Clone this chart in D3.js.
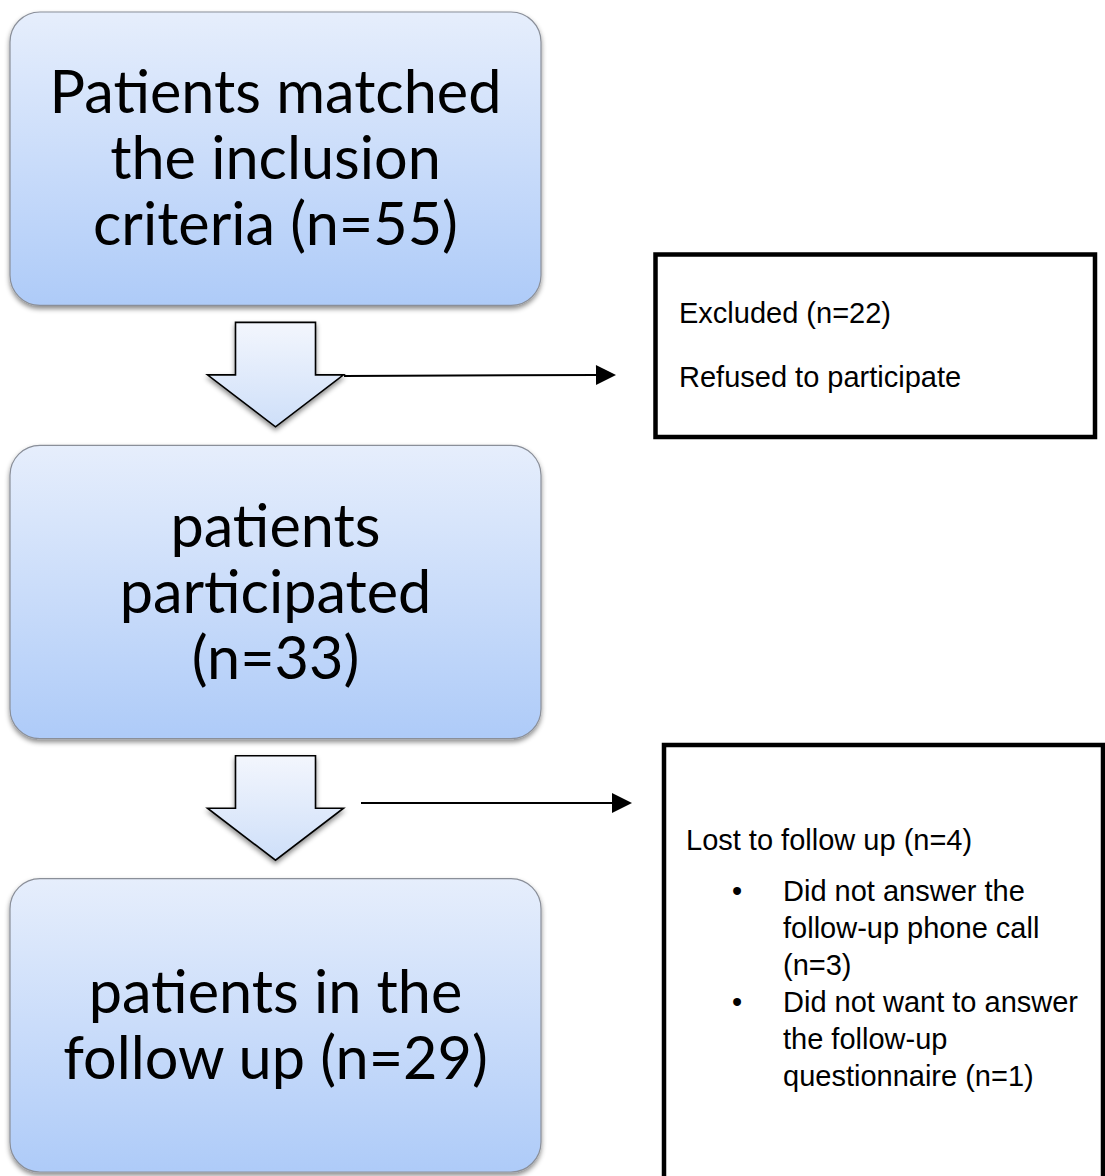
<!DOCTYPE html>
<html>
<head>
<meta charset="utf-8">
<script src="https://cdn.jsdelivr.net/npm/d3@7"></script>
<style>
  html, body { margin: 0; padding: 0; background: #fff; }
  svg { display: block; }
</style>
</head>
<body>
<svg id="chart" width="1105" height="1176"></svg>
<script>
// ---- data ----
const stages = ["matched", "participated", "followup"];
const stageCounts = [55, 33, 29];
const stageLines = [
  ["Patients matched", "the inclusion", "criteria (n={n})"],
  ["patients", "participated", "(n={n})"],
  ["patients in the", "follow up (n={n})"]
];
const excludedCount = 22;
const excludedLines = ["Excluded (n={n})", "Refused to participate"];
const lostCount = 4;
const lostTitle = "Lost to follow up (n={n})";
const lostReasons = [
  { lines: ["Did not answer the", "follow-up phone call", "(n={n})"], n: 3 },
  { lines: ["Did not want to answer", "the follow-up", "questionnaire (n={n})"], n: 1 }
];

// ---- layout ----
const W = 1105, H = 1176;
const svg = d3.select("#chart");
const defs = svg.append("defs");

const boxGrad = defs.append("linearGradient").attr("id", "boxGrad")
  .attr("x1", 0).attr("y1", 0).attr("x2", 0).attr("y2", 1);
boxGrad.append("stop").attr("offset", "0%").attr("stop-color", "#e6eefc");
boxGrad.append("stop").attr("offset", "100%").attr("stop-color", "#aecbf8");

const arrGrad = defs.append("linearGradient").attr("id", "arrGrad")
  .attr("x1", 0).attr("y1", 0).attr("x2", 0).attr("y2", 1);
arrGrad.append("stop").attr("offset", "0%").attr("stop-color", "#f3f6fd");
arrGrad.append("stop").attr("offset", "100%").attr("stop-color", "#cedff9");

const shadow = defs.append("filter").attr("id", "shadow")
  .attr("x", "-10%").attr("y", "-10%").attr("width", "120%").attr("height", "130%");
shadow.append("feDropShadow").attr("dx", 0).attr("dy", 3).attr("stdDeviation", 2.5)
  .attr("flood-color", "#000").attr("flood-opacity", 0.45);

defs.append("marker").attr("id", "arrowHead")
  .attr("viewBox", "0 0 10 10").attr("refX", 0).attr("refY", 5)
  .attr("markerUnits", "userSpaceOnUse")
  .attr("markerWidth", 21).attr("markerHeight", 20).attr("orient", "auto")
  .append("path").attr("d", "M0,0 L10,5 L0,10 Z").attr("fill", "#000");

const y = d3.scaleBand().domain(stages).range([12, 1172]).paddingInner(0.323);
const x0 = 10, x1 = 541;
const cx = (x0 + x1) / 2;

const bigFont = "Lato, 'Open Sans', sans-serif";
// measure to fit reference width of first line
const probe = svg.append("text").attr("font-family", bigFont).attr("font-size", 100)
  .text("Patients matched");
const probeW = probe.node().getComputedTextLength();
probe.remove();
const bigSize = 100 * 452 / probeW;
const lineH = 66;

const fill = (s, n) => s.replace("{n}", n);

// boxes
const g = svg.selectAll("g.stage").data(stages).join("g").attr("class", "stage");
g.append("rect")
  .attr("x", x0).attr("y", d => y(d))
  .attr("width", x1 - x0).attr("height", y.bandwidth())
  .attr("rx", 30).attr("ry", 30)
  .attr("fill", "url(#boxGrad)").attr("stroke", "#8a8f99").attr("stroke-width", 1.2)
  .attr("filter", "url(#shadow)");

g.each(function (d, i) {
  const lines = stageLines[i].map(s => fill(s, stageCounts[i]));
  const mid = y(d) + y.bandwidth() / 2;
  const first = mid - (lines.length - 1) * lineH / 2;
  d3.select(this).selectAll("text").data(lines).join("text")
    .attr("x", cx).attr("y", (s, k) => first + k * lineH)
    .attr("dy", "0.35em")
    .attr("text-anchor", "middle")
    .attr("font-family", bigFont).attr("font-size", bigSize)
    .attr("fill", "#000")
    .text(s => s);
});

// block arrows between stages
const gaps = d3.pairs(stages);
const arrowTop = 17, headY = 69.5, tipY = 121.5;
svg.selectAll("path.blockArrow").data(gaps).join("path").attr("class", "blockArrow")
  .attr("d", ([a, b]) => {
    const t = y(a) + y.bandwidth();
    return `M${cx - 40},${t + arrowTop} L${cx + 40},${t + arrowTop} L${cx + 40},${t + headY}
            L${cx + 68},${t + headY} L${cx},${t + tipY} L${cx - 68},${t + headY}
            L${cx - 40},${t + headY} Z`;
  })
  .attr("fill", "url(#arrGrad)").attr("stroke", "#000").attr("stroke-width", 1.6)
  .attr("stroke-linejoin", "miter")
  .attr("filter", "url(#shadow)");

// connector lines
const connectors = [
  { x1: 344, y1: 376, x2: 596, y2: 375 },
  { x1: 361, y1: 803, x2: 612, y2: 803 }
];
svg.selectAll("line.conn").data(connectors).join("line").attr("class", "conn")
  .attr("x1", d => d.x1).attr("y1", d => d.y1).attr("x2", d => d.x2).attr("y2", d => d.y2)
  .attr("stroke", "#000").attr("stroke-width", 2)
  .attr("marker-end", "url(#arrowHead)");

// side boxes
const smallFont = "'Liberation Sans', Arial, sans-serif";
const smallSize = 29;

svg.append("rect").attr("x", 655.5).attr("y", 254.5).attr("width", 439.5).attr("height", 182.5)
  .attr("fill", "#fff").attr("stroke", "#000").attr("stroke-width", 4.5);
svg.selectAll("text.excl").data(excludedLines).join("text").attr("class", "excl")
  .attr("x", 679).attr("y", (d, i) => 323 + i * 64)
  .attr("font-family", smallFont).attr("font-size", smallSize).attr("fill", "#000")
  .text(d => fill(d, excludedCount));

svg.append("rect").attr("x", 664).attr("y", 745).attr("width", 439).attr("height", 500)
  .attr("fill", "#fff").attr("stroke", "#000").attr("stroke-width", 4.5);
svg.append("text").attr("x", 686).attr("y", 850)
  .attr("font-family", smallFont).attr("font-size", smallSize).attr("fill", "#000")
  .text(fill(lostTitle, lostCount));

const reasonLH = 36.9;
let row = 0;
lostReasons.forEach(r => {
  const by = 901 + row * reasonLH;
  svg.append("text").attr("x", 737).attr("y", by).attr("text-anchor", "middle")
    .attr("font-family", smallFont).attr("font-size", smallSize).text("\u2022");
  r.lines.forEach((s, k) => {
    svg.append("text").attr("x", 783).attr("y", 901 + (row + k) * reasonLH)
      .attr("font-family", smallFont).attr("font-size", smallSize).attr("fill", "#000")
      .text(fill(s, r.n));
  });
  row += r.lines.length;
});
</script>
</body>
</html>
